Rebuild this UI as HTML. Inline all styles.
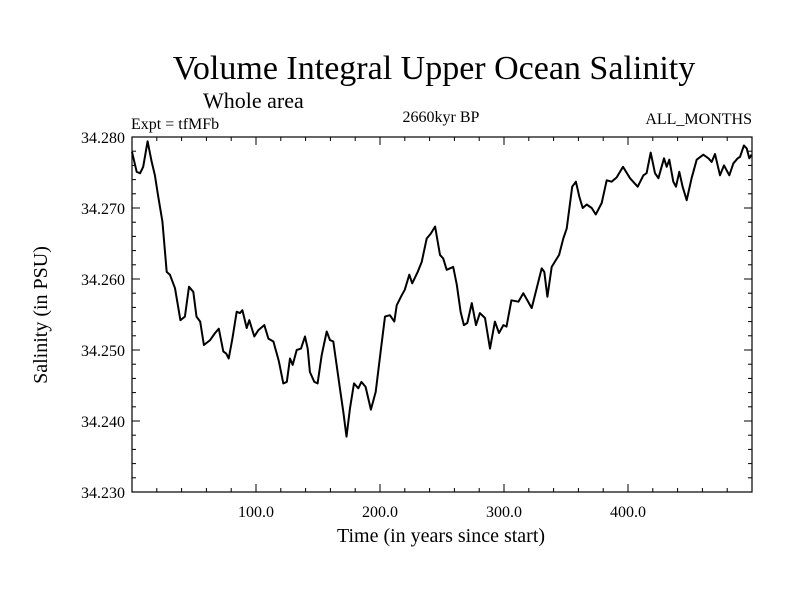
<!DOCTYPE html>
<html><head><meta charset="utf-8"><style>
body{margin:0;background:#fff}
svg text{font-family:"Liberation Serif",serif;fill:#000}
</style></head><body>
<svg width="800" height="600" viewBox="0 0 800 600">
<rect width="800" height="600" fill="#fff"/>
<text x="434" y="79" font-size="34" text-anchor="middle">Volume Integral Upper Ocean Salinity</text>
<text x="203" y="108" font-size="22">Whole area</text>
<text x="131" y="129" font-size="16">Expt = tfMFb</text>
<text x="441" y="122" font-size="16" text-anchor="middle">2660kyr BP</text>
<text x="752" y="124" font-size="16" text-anchor="end">ALL_MONTHS</text>
<text transform="translate(47,315) rotate(-90)" font-size="20" text-anchor="middle">Salinity (in PSU)</text>
<text x="441" y="542" font-size="20" text-anchor="middle">Time (in years since start)</text>
<g id="axes"></g>
<path id="line" fill="none" stroke="#000" stroke-width="2" stroke-linejoin="round"/>
<rect x="132" y="137" width="620" height="355" fill="none" stroke="#000" stroke-width="1.2"/>
</svg>
<script>
const years=[0,3.8,6.5,9,12.6,15.9,18.5,21,24.5,28,30.6,34.7,39,42.7,46,49.4,52,55,58,63,67,70,73.6,76,78,81,84.4,87,89,92.5,94.6,98.6,101.9,106.7,110,114,118.5,122,124.8,127.4,129.6,132.8,136.3,139.5,141.7,143.5,147,149.7,153,157,159.7,162.3,165,167.7,170.4,173,175.8,179,182.5,185,188.4,192.7,196.5,200.8,204,208,211.5,213.5,217.5,220,223.6,226,230.4,233.6,237.7,241,244.4,248.4,251,253.8,259,261.9,265,267.7,270.4,274,277.4,280.6,284.7,288.7,292.7,296,299.5,302,306,311.6,315.6,318.8,322.3,326.4,330.4,332.5,335,338.5,344.4,347.8,350.6,355,358,360.7,363.5,366.7,370.7,374,378.8,382.8,386.8,390.8,396,401.6,407.8,412.4,415,418.3,421.8,424.5,429,431.2,433.3,436.5,438.7,441.4,444,447.3,451.3,455.4,460.7,464.8,467.5,470.2,474.2,477.4,481.7,485,488.5,490.3,493.5,495.7,497.8,499.7];
const salinity=[34.2779,34.2751,34.2749,34.2758,34.2794,34.2765,34.2746,34.2718,34.2681,34.2610,34.2606,34.2587,34.2542,34.2547,34.2589,34.2582,34.2547,34.2540,34.2507,34.2514,34.2524,34.2530,34.2498,34.2495,34.2488,34.2516,34.2554,34.2552,34.2556,34.2531,34.2542,34.2519,34.2528,34.2535,34.2516,34.2512,34.2484,34.2453,34.2455,34.2488,34.2479,34.2500,34.2502,34.2519,34.2502,34.2469,34.2455,34.2453,34.2493,34.2526,34.2514,34.2512,34.2479,34.2446,34.2413,34.2378,34.2418,34.2453,34.2446,34.2455,34.2448,34.2416,34.2441,34.2502,34.2547,34.2549,34.2540,34.2563,34.2577,34.2585,34.2606,34.2594,34.2610,34.2624,34.2657,34.2664,34.2674,34.2634,34.2629,34.2613,34.2617,34.2592,34.2554,34.2535,34.2538,34.2566,34.2535,34.2552,34.2545,34.2502,34.2540,34.2524,34.2535,34.2533,34.2570,34.2568,34.2580,34.2570,34.2559,34.2587,34.2615,34.2610,34.2575,34.2617,34.2634,34.2657,34.2671,34.2730,34.2737,34.2716,34.2700,34.2705,34.2700,34.2691,34.2707,34.2739,34.2737,34.2743,34.2758,34.2742,34.2730,34.2746,34.2749,34.2778,34.2749,34.2742,34.2770,34.2758,34.2768,34.2737,34.2730,34.2751,34.2730,34.2711,34.2742,34.2768,34.2775,34.2770,34.2765,34.2776,34.2746,34.2760,34.2746,34.2763,34.2770,34.2772,34.2788,34.2784,34.2770,34.2775];
const xTickValues=[100,200,300,400];
const xTickLabels=["100.0","200.0","300.0","400.0"];
const yTickValues=[34.23,34.24,34.25,34.26,34.27,34.28];
const yTickLabels=["34.230","34.240","34.250","34.260","34.270","34.280"];
const X0=132,X1=752,Y0=492,Y1=137,XMIN=0,XMAX=500,YMIN=34.23,YMAX=34.28;
function xs(v){return X0+(v-XMIN)/(XMAX-XMIN)*(X1-X0);}
function ys(v){return Y0-(v-YMIN)/(YMAX-YMIN)*(Y0-Y1);}
const NS="http://www.w3.org/2000/svg";
const g=document.getElementById('axes');
function line(x1,y1,x2,y2,name){const l=document.createElementNS(NS,'line');l.setAttribute('x1',x1);l.setAttribute('y1',y1);l.setAttribute('x2',x2);l.setAttribute('y2',y2);l.setAttribute('stroke','#000');l.setAttribute('stroke-width','1');


g.appendChild(l);}
function text(x,y,s,anchor,name){const t=document.createElementNS(NS,'text');t.setAttribute('x',x);t.setAttribute('y',y);t.setAttribute('font-size','16');t.setAttribute('text-anchor',anchor);t.textContent=s;


g.appendChild(t);}
for(let v=20;v<XMAX;v+=20){const x=xs(v);const major=v%100===0;const L=major?8:4;line(x,Y0,x,Y0-L,'x-tick');line(x,Y1,x,Y1+L,'x-tick-top');}
for(let i=0;i<=25;i++){const v=YMIN+i*0.002;const y=ys(v);const major=i%5===0;const L=major?8:4;line(X0,y,X0+L,y,'y-tick');line(X1,y,X1-L,y,'y-tick-right');}
xTickValues.forEach((v,i)=>text(xs(v),517,xTickLabels[i],'middle','x-tick-label'));
yTickValues.forEach((v,i)=>text(125,ys(v)+6,yTickLabels[i],'end','y-tick-label'));
document.getElementById('line').setAttribute('d',years.map((y,i)=>(i?'L':'M')+xs(y).toFixed(1)+','+ys(salinity[i]).toFixed(1)).join(''));
</script>
</body></html>
